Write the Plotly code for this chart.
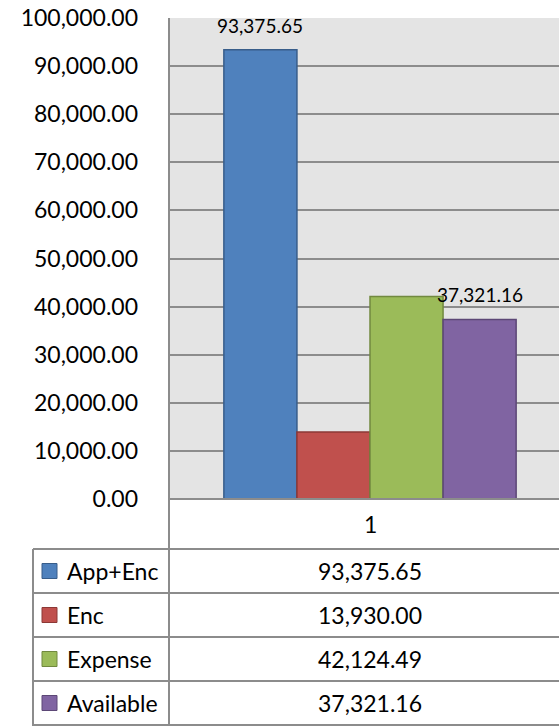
import plotly.graph_objects as go

# ---- data ----
categories = ["1"]
series_names = ["App+Enc", "Enc", "Expense", "Available"]
series_values = [93375.65, 13930.00, 42124.49, 37321.16]
labelled_series = ["App+Enc", "Available"]
y_ticks = [0, 10000, 20000, 30000, 40000, 50000, 60000, 70000, 80000, 90000, 100000]

# ---- styling ----
fills = ["#4f81bd", "#c0504d", "#9bbb59", "#8064a2"]
borders = ["#385d8a", "#8c3836", "#71893f", "#5c4776"]
FONT = "Lato"
GRID = "#8c8c8c"

W, H = 559, 726
PL, PT, PB = 169, 18, 499          # plot left, top, bottom (pixels)
CAT_W = 402.0                       # pixel width of one category
plot_w = W - PL
plot_h = PB - PT

def px(X):
    return (X - PL) / plot_w

def py(Y):
    return (PB - Y) / plot_h

fig = go.Figure()
for name, v, f, b in zip(series_names, series_values, fills, borders):
    fig.add_trace(go.Bar(
        x=[0], y=[v], name=name,
        marker=dict(color=f, line=dict(color=b, width=1.5)),
        showlegend=False, hoverinfo="skip",
    ))

bargap = 0.273
n = len(series_names)
bw = (1 - bargap) / n
annotations = []
shapes = []

# data labels
for i, (name, v) in enumerate(zip(series_names, series_values)):
    if name in labelled_series:
        xc = -(1 - bargap) / 2 + (i + 0.5) * bw
        annotations.append(dict(
            x=xc, y=v, xref="x", yref="y", text=f"{v:,.2f}", showarrow=False,
            yanchor="bottom", yshift=11, font=dict(family=FONT, size=19, color="#000")))

# category label row
row_top = PB
cat_bottom = 549
annotations.append(dict(
    x=0, y=py((row_top + cat_bottom) / 2), xref="x", yref="paper", text=categories[0],
    showarrow=False, xanchor="center", yanchor="middle",
    font=dict(family=FONT, size=23, color="#000")))

# table rows
row_h = 44
TL = 33
line = dict(color=GRID, width=2)
for i, (name, v, f, b) in enumerate(zip(series_names, series_values, fills, borders)):
    y0 = cat_bottom + i * row_h
    yc = y0 + row_h / 2
    annotations.append(dict(
        x=0, y=py(yc), xref="x", yref="paper", text=f"{v:,.2f}", showarrow=False,
        xanchor="center", yanchor="middle", font=dict(family=FONT, size=23, color="#000")))
    annotations.append(dict(
        x=px(65), y=py(yc), xref="paper", yref="paper", text=name, showarrow=False,
        xanchor="left", yanchor="middle", font=dict(family=FONT, size=23, color="#000")))
    shapes.append(dict(type="rect", xref="paper", yref="paper",
                       x0=px(42), x1=px(57), y0=py(yc - 7.5), y1=py(yc + 7.5),
                       fillcolor=f, line=dict(color=b, width=1)))
    shapes.append(dict(type="line", xref="paper", yref="paper",
                       x0=px(TL), x1=1, y0=py(y0), y1=py(y0), line=line))

# table frame lines
shapes.append(dict(type="line", xref="paper", yref="paper", x0=0, x1=1,
                   y0=py(PB), y1=py(PB), line=line))
shapes.append(dict(type="line", xref="paper", yref="paper", x0=0, x1=0,
                   y0=py(PT), y1=py(H), line=line))
shapes.append(dict(type="line", xref="paper", yref="paper", x0=px(TL), x1=px(TL),
                   y0=py(cat_bottom), y1=py(H), line=line))
shapes.append(dict(type="line", xref="paper", yref="paper", x0=px(TL), x1=1,
                   y0=py(H - 1), y1=py(H - 1), line=line))

fig.update_layout(
    width=W, height=H,
    margin=dict(l=PL, r=0, t=PT, b=H - PB, pad=0),
    paper_bgcolor="white", plot_bgcolor="#e4e4e4",
    barmode="group", bargap=bargap, bargroupgap=0,
    xaxis=dict(range=[-0.5, -0.5 + plot_w / CAT_W], showticklabels=False,
               showgrid=False, zeroline=False, fixedrange=True),
    yaxis=dict(range=[0, 100000], tickvals=y_ticks, tickformat=",.2f",
               showgrid=True, gridcolor=GRID, gridwidth=1.5, zeroline=False,
               ticklabelstandoff=30, tickfont=dict(family=FONT, size=23, color="#000"),
               showline=False, fixedrange=True),
    annotations=annotations, shapes=shapes,
    font=dict(family=FONT),
)

fig.write_html("out.html", config={"displayModeBar": False},
               post_script="document.body.style.margin='0';document.body.style.overflow='hidden';")
